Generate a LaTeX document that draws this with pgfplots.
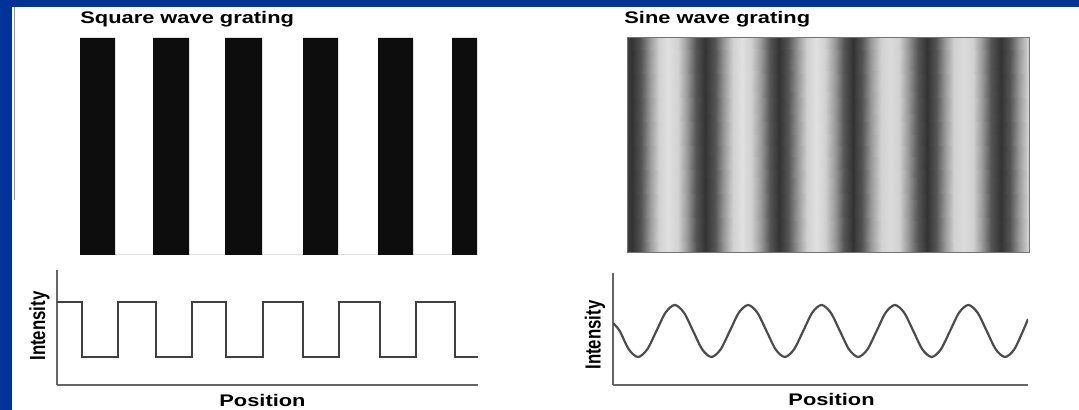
\documentclass[border=0pt]{standalone}
\usepackage{graphicx}
\usepackage{fontspec}
\setmainfont{Liberation Sans}
\usepackage{pgfplots}
\pgfplotsset{compat=1.18}
\definecolor{slideblue}{RGB}{0,51,153}
\newcommand{\lab}[1]{\scalebox{1.3}[1]{\fontsize{8.4pt}{10pt}\selectfont\bfseries #1}}
\newcommand{\vlab}[1]{\scalebox{1}[1.3]{\fontsize{8.4pt}{10pt}\selectfont\bfseries #1}}
\begin{document}
\begin{tikzpicture}
\fill[slideblue] (0,0) rectangle (539.5pt,205pt);
\fill[white] (6pt,0) rectangle (539.5pt,201.5pt);
\draw[black!40, line width=0.5pt] (7pt,201.5pt) -- (7pt,105pt);

% ---- square wave grating (bars) ----
\begin{axis}[at={(28.5pt,77.5pt)}, anchor=south west, x=0.5pt, y=108.5pt,
  xmin=57, xmax=478, ymin=0, ymax=1, hide axis]
\addplot[ybar interval, fill=black!95, draw=none] coordinates {
  (80,1) (115,0) (153,1) (189,0) (225,1) (262,0) (303,1) (338,0)
  (378,1) (413,0) (452,1) (477,0)};
\end{axis}

% ---- square wave profile ----
\begin{axis}[at={(28.5pt,12.5pt)}, anchor=south west, x=0.5pt, y=0.5pt,
  xmin=57, xmax=478, ymin=0, ymax=115,
  axis x line=bottom, axis y line=left,
  axis line style={-, black!60, line width=0.6pt},
  xtick=\empty, ytick=\empty,
  xlabel={\lab{Position}}, ylabel={\vlab{Intensity}},
  xlabel style={at={(axis description cs:0.488,-0.183)}, anchor=base},
  ylabel style={at={(axis description cs:-0.0416,0.513)}, anchor=center}]
\addplot[const plot, black!75, line width=0.8pt] coordinates {
  (57,83) (82,28) (118,83) (156,28) (192,83) (226,28) (263,83) (303,28)
  (339,83) (380,28) (416,83) (455,28) (478,28)};
\end{axis}

% ---- sine wave grating ----
\begin{axis}[at={(313.5pt,78.5pt)}, anchor=south west, x=0.5pt, y=107.5pt,
  xmin=627, xmax=1029, ymin=0, ymax=1, xtick=\empty, ytick=\empty,
  axis on top, axis line style={black!55, line width=0.5pt},
  colormap/blackwhite, point meta min=0, point meta max=1]
\addplot[surf, shader=interp, point meta=explicit, mesh/rows=2] table[meta=c] {
x y c
627 0 0.24
631.5 0 0.20
640.7 0 0.33
650.0 0 0.60
659.2 0 0.82
668.4 0 0.88
677.6 0 0.82
686.9 0 0.60
696.1 0 0.33
705.3 0 0.20
714.5 0 0.33
723.8 0 0.60
733.0 0 0.82
742.2 0 0.88
751.4 0 0.82
760.7 0 0.60
769.9 0 0.33
779.1 0 0.20
788.3 0 0.33
797.6 0 0.60
806.8 0 0.82
816.0 0 0.88
825.2 0 0.82
834.5 0 0.60
843.7 0 0.33
852.9 0 0.20
862.1 0 0.33
871.4 0 0.60
880.6 0 0.82
889.8 0 0.86
899.0 0 0.82
908.3 0 0.60
917.5 0 0.33
926.7 0 0.20
935.9 0 0.33
945.2 0 0.60
954.4 0 0.82
963.6 0 0.86
972.8 0 0.82
982.1 0 0.60
991.3 0 0.33
1000.5 0 0.20
1009.7 0 0.33
1019.0 0 0.60
1028.2 0 0.82
1029 0 0.83

627 1 0.24
631.5 1 0.20
640.7 1 0.33
650.0 1 0.60
659.2 1 0.82
668.4 1 0.88
677.6 1 0.82
686.9 1 0.60
696.1 1 0.33
705.3 1 0.20
714.5 1 0.33
723.8 1 0.60
733.0 1 0.82
742.2 1 0.88
751.4 1 0.82
760.7 1 0.60
769.9 1 0.33
779.1 1 0.20
788.3 1 0.33
797.6 1 0.60
806.8 1 0.82
816.0 1 0.88
825.2 1 0.82
834.5 1 0.60
843.7 1 0.33
852.9 1 0.20
862.1 1 0.33
871.4 1 0.60
880.6 1 0.82
889.8 1 0.86
899.0 1 0.82
908.3 1 0.60
917.5 1 0.33
926.7 1 0.20
935.9 1 0.33
945.2 1 0.60
954.4 1 0.82
963.6 1 0.86
972.8 1 0.82
982.1 1 0.60
991.3 1 0.33
1000.5 1 0.20
1009.7 1 0.33
1019.0 1 0.60
1028.2 1 0.82
1029 1 0.83
};
\end{axis}

% ---- sine wave profile ----
\begin{axis}[at={(306.5pt,12.5pt)}, anchor=south west, x=0.5pt, y=0.5pt,
  xmin=613, xmax=1028, ymin=0, ymax=112,
  axis x line=bottom, axis y line=left,
  axis line style={-, black!60, line width=0.6pt},
  xtick=\empty, ytick=\empty,
  xlabel={\lab{Position}}, ylabel={\vlab{Intensity}},
  xlabel style={at={(axis description cs:0.5265,-0.179)}, anchor=base},
  ylabel style={at={(axis description cs:-0.0434,0.446)}, anchor=center}]
\addplot[smooth, black!70, line width=1.1pt] coordinates {
  (613,62) (619.7,54) (628.8,35.6) (638,28) (647.2,35.6) (656.4,54) (665.5,72.4)
  (674.7,80) (683.9,72.4) (693.1,54) (702.2,35.6) (711.4,28) (720.6,35.6)
  (729.8,54) (738.9,72.4) (748.1,80) (757.3,72.4) (766.5,54) (775.6,35.6)
  (784.8,28) (794.0,35.6) (803.2,54) (812.3,72.4) (821.5,80) (830.7,72.4)
  (839.9,54) (849.0,35.6) (858.2,28) (867.4,35.6) (876.6,54) (885.7,72.4)
  (894.9,80) (904.1,72.4) (913.3,54) (922.4,35.6) (931.6,28) (940.8,35.6)
  (950.0,54) (959.1,72.4) (968.3,80) (977.5,72.4) (986.7,54) (995.8,35.6)
  (1005.0,28) (1014.2,35.6) (1023.4,55) (1028,66)};
\end{axis}

\node[anchor=base west, inner sep=0pt] at (40pt,193pt) {\lab{Square wave grating}};
\node[anchor=base west, inner sep=0pt] at (312pt,193pt) {\lab{Sine wave grating}};

\pgfresetboundingbox
\path[use as bounding box] (0,0) rectangle (539.5pt,205pt);
\end{tikzpicture}
\end{document}
